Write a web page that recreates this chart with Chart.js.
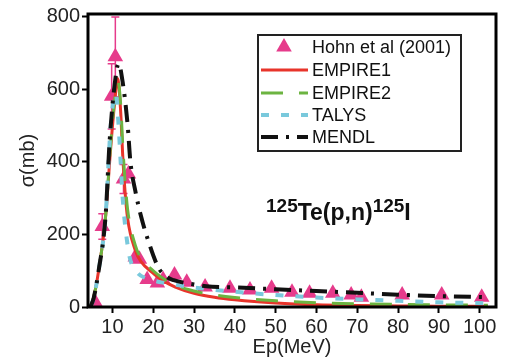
<!DOCTYPE html>
<html>
<head>
<meta charset="utf-8">
<script src="https://cdn.jsdelivr.net/npm/chart.js@4.4.1/dist/chart.umd.min.js"></script>
<style>
html,body{margin:0;padding:0;background:#fff;}
#wrap{width:505px;height:363px;}
</style>
</head>
<body>
<div id="wrap"><canvas id="c"></canvas></div>
<script>
// ======================
// DATA
// ======================
const xTicks = [10,20,30,40,50,60,70,80,90,100];
const yTicks = [0,200,400,600,800];

// Hohn et al (2001) measured points
const hohnX   = [5.9, 7.5, 9.8, 10.7, 12.7, 13.9, 15.6, 16.6, 18.5, 21.0, 22.4, 25.2, 28.2, 32.7, 38.8, 43.7, 49.0, 54.0, 58.3, 64.0, 68.5, 71.0, 81.0, 90.7, 100.5];
const hohnY   = [10, 222, 581, 690, 353, 367, 138, 132, 76, 66, 76, 88, 68, 55, 52, 47, 52, 41, 38, 38, 33, 27, 33, 33, 27];
const hohnErr = [0, 35, 90, 110, 40, 0, 0, 0, 0, 0, 0, 0, 0, 0, 0, 0, 0, 0, 0, 0, 0, 0, 0, 0, 0];

// EMPIRE1
const emp1X = [4.6, 5.4, 6.6, 8.3, 9.5, 10.5, 11.3, 12.0, 12.5, 13.0, 13.7, 15.6, 17.0, 19.8, 22.0, 25.4, 30, 35, 40, 50, 60, 70, 80, 90, 102];
const emp1Y = [0, 27, 100, 247, 430, 560, 630, 540, 420, 330, 245, 156, 125, 95, 75, 55, 38, 27, 20, 11, 6, 4, 3, 2, 2];

// EMPIRE2
const emp2X = [4.6, 5.4, 6.6, 8.3, 9.5, 10.5, 11.4, 12.0, 12.5, 13.0, 13.7, 15.6, 17.0, 20.0, 22.0, 25.0, 30, 35, 40, 50, 60, 70, 80, 90, 102];
const emp2Y = [0, 27, 100, 250, 440, 570, 620, 560, 450, 360, 270, 170, 135, 100, 82, 62, 44, 33, 26, 17, 12, 9, 7, 6, 5];

// TALYS
const talysX = [4.6, 5.4, 6.6, 8.3, 9.5, 10.3, 10.8, 11.5, 12.0, 12.5, 13.9, 14.8, 16.3, 18.0, 19.8, 22.0, 30, 40, 50, 60, 70, 80, 90, 102];
const talysY = [0, 25, 100, 250, 490, 575, 590, 500, 400, 300, 156, 115, 92, 80, 74, 68, 54, 42, 33, 26, 21, 17, 13, 10];

// MENDL
const mendlX = [4.6, 5.4, 6.6, 8.3, 9.3, 10.5, 11.5, 12.5, 13.7, 14.4, 15.6, 17.0, 18.5, 21.2, 23.4, 25.0, 30, 33, 40, 50, 60, 70, 80, 90, 102];
const mendlY = [0, 25, 100, 250, 457, 610, 671, 620, 504, 400, 320, 250, 192, 110, 82, 74, 62, 57, 54, 49, 44, 39, 34, 30, 27];

const pts = (xs, ys) => xs.map((x, i) => ({x: x, y: ys[i]}));

const PINK = "#e63b8b";

// ======================
// EXTRA DRAWING: error bars, frame, legend, label
// ======================
const extras = {
  id: "extras",
  beforeDatasetsDraw(chart){
    const ctx = chart.ctx, xs = chart.scales.x, ys = chart.scales.y;
    ctx.save();
    ctx.strokeStyle = PINK;
    ctx.lineWidth = 1.5;
    hohnX.forEach((x, i) => {
      const e = hohnErr[i];
      if(!e) return;
      const px = xs.getPixelForValue(x);
      const t = ys.getPixelForValue(hohnY[i] + e);
      const b = ys.getPixelForValue(hohnY[i] - e);
      ctx.beginPath();
      ctx.moveTo(px, t); ctx.lineTo(px, b);
      ctx.moveTo(px - 4, t); ctx.lineTo(px + 4, t);
      ctx.moveTo(px - 4, b); ctx.lineTo(px + 4, b);
      ctx.stroke();
    });
    ctx.restore();
  },
  afterDraw(chart){
    const ctx = chart.ctx, a = chart.chartArea;
    ctx.save();
    // frame
    ctx.strokeStyle = "#000";
    ctx.lineWidth = 3;
    ctx.strokeRect(a.left, a.top, a.right - a.left, a.bottom - a.top);

    // legend box
    const lx = 258, ly = 35, lw = 203, lh = 116;
    ctx.fillStyle = "#fff";
    ctx.fillRect(lx, ly, lw, lh);
    ctx.lineWidth = 2;
    ctx.strokeStyle = "#222";
    ctx.strokeRect(lx, ly, lw, lh);

    ctx.font = "18px 'Liberation Sans', Arial, sans-serif";
    ctx.textBaseline = "middle";
    const rowY = [47, 70, 93, 115, 137];
    chart.data.datasets.forEach((ds, i) => {
      const y = rowY[i];
      if(ds.pointStyle === "triangle"){
        const r = 9;
        ctx.fillStyle = ds.backgroundColor;
        ctx.beginPath();
        ctx.moveTo(284, y - r);
        ctx.lineTo(284 + r * 0.866, y + r / 2);
        ctx.lineTo(284 - r * 0.866, y + r / 2);
        ctx.closePath();
        ctx.fill();
      } else {
        ctx.strokeStyle = ds.borderColor;
        ctx.lineWidth = ds.borderWidth;
        ctx.setLineDash(ds.borderDash || []);
        ctx.beginPath();
        ctx.moveTo(261, y);
        ctx.lineTo(308, y);
        ctx.stroke();
        ctx.setLineDash([]);
      }
      ctx.fillStyle = "#111";
      ctx.fillText(ds.label, 312, y + 1);
    });

    // reaction label with superscripts
    ctx.fillStyle = "#111";
    ctx.textBaseline = "alphabetic";
    const sup = "bold 19px 'Liberation Sans', Arial, sans-serif";
    const main = "bold 23px 'Liberation Sans', Arial, sans-serif";
    const parts = [["125", sup, 212], ["Te(p,n)", main, 220], ["125", sup, 212], ["I", main, 220]];
    let x = 266;
    parts.forEach(p => {
      ctx.font = p[1];
      ctx.fillText(p[0], x, p[2]);
      x += ctx.measureText(p[0]).width;
    });
    ctx.restore();
  }
};

// ======================
// CHART
// ======================
new Chart(document.getElementById("c"), {
  type: "scatter",
  data: {
    datasets: [
      {
        label: "Hohn et al (2001)",
        data: pts(hohnX, hohnY),
        pointStyle: "triangle",
        pointRadius: 9,
        pointBackgroundColor: PINK,
        pointBorderWidth: 0,
        backgroundColor: PINK,
        borderColor: PINK,
        order: 10,
        clip: false
      },
      {
        label: "EMPIRE1",
        data: pts(emp1X, emp1Y),
        showLine: true,
        pointRadius: 0,
        borderColor: "#e8342b",
        borderWidth: 3,
        cubicInterpolationMode: "monotone",
        order: 4
      },
      {
        label: "EMPIRE2",
        data: pts(emp2X, emp2Y),
        showLine: true,
        pointRadius: 0,
        borderColor: "#6cb441",
        borderWidth: 3,
        borderDash: [22, 16],
        cubicInterpolationMode: "monotone",
        order: 3
      },
      {
        label: "TALYS",
        data: pts(talysX, talysY),
        showLine: true,
        pointRadius: 0,
        borderColor: "#79c9dc",
        borderWidth: 4,
        borderDash: [8, 12],
        cubicInterpolationMode: "monotone",
        order: 2
      },
      {
        label: "MENDL",
        data: pts(mendlX, mendlY),
        showLine: true,
        pointRadius: 0,
        borderColor: "#111",
        borderWidth: 4,
        borderDash: [17, 8, 3, 8],
        cubicInterpolationMode: "monotone",
        order: 1
      }
    ]
  },
  options: {
    responsive: true,
    maintainAspectRatio: false,
    animation: false,
    layout: {padding: {top: 12, right: 8, left: 0, bottom: 0}},
    plugins: {legend: {display: false}, tooltip: {enabled: false}},
    scales: {
      x: {
        type: "linear",
        min: 4, max: 104,
        afterBuildTicks: s => { s.ticks = xTicks.map(v => ({value: v})); },
        afterFit: s => { s.height = 56; },
        border: {display: false},
        grid: {drawOnChartArea: false, drawTicks: true, tickLength: 6, tickWidth: 2, tickColor: "#000"},
        ticks: {color: "#222", padding: 2, maxRotation: 0, font: {size: 20, family: "'Liberation Sans', Arial, sans-serif"}},
        title: {display: true, text: "Ep(MeV)", color: "#222", padding: {top: 0, bottom: 4}, font: {size: 20, family: "'Liberation Sans', Arial, sans-serif"}}
      },
      y: {
        min: 0, max: 808,
        afterBuildTicks: s => { s.ticks = yTicks.map(v => ({value: v})); },
        afterFit: s => { s.width = 88; },
        border: {display: false},
        grid: {drawOnChartArea: false, drawTicks: true, tickLength: 6, tickWidth: 2, tickColor: "#000"},
        ticks: {color: "#222", padding: 2, font: {size: 20, family: "'Liberation Sans', Arial, sans-serif"}},
        title: {display: true, text: "σ(mb)", color: "#222", padding: {top: 16, bottom: 0}, font: {size: 20, family: "'Liberation Sans', Arial, sans-serif"}}
      }
    }
  },
  plugins: [extras]
});
</script>
</body>
</html>
